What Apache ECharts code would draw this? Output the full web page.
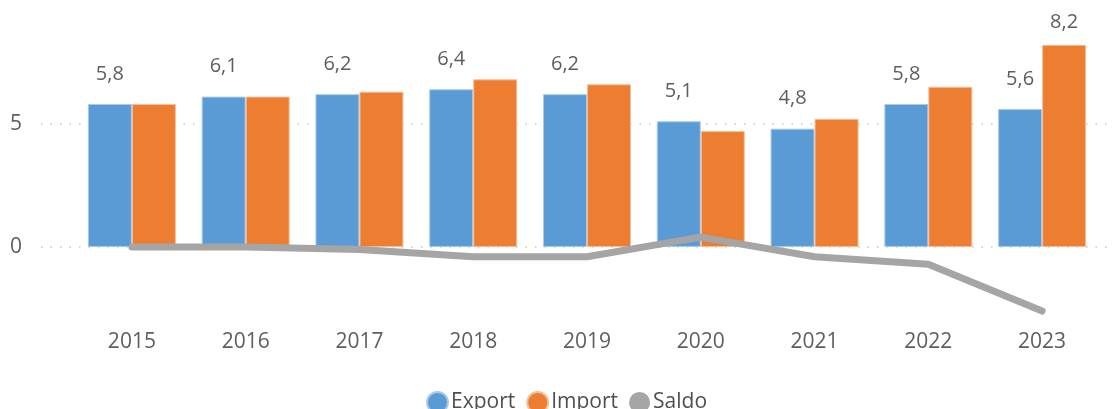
<!DOCTYPE html>
<html>
<head>
<meta charset="utf-8">
<script src="https://cdn.jsdelivr.net/npm/echarts@6/dist/echarts.min.js"></script>
<style>
  html, body { margin: 0; padding: 0; background: #fff; }
  #chart { width: 1120px; height: 409px; }
</style>
</head>
<body>
<div id="chart"></div>
<script>
var years = ['2015', '2016', '2017', '2018', '2019', '2020', '2021', '2022', '2023']
var exportVals = [5.8, 6.1, 6.2, 6.4, 6.2, 5.1, 4.8, 5.8, 5.6]
var importVals = [5.8, 6.1, 6.3, 6.8, 6.6, 4.7, 5.2, 6.5, 8.2]
var saldoVals = [0.0, 0.0, -0.1, -0.4, -0.4, 0.4, -0.4, -0.7, -2.6]

var font = 'Open Sans'
var textGrey = '#605E5C'
var yMin = -2.7
var yMax = 8.6

function fmt(v) {
  return String(v.toFixed(1)).replace('.', ',')
}

// only the last import label is visible in the picture
var importData = importVals.map(function (v, i) {
  if (i === importVals.length - 1) {
    return { value: v, label: { show: true } }
  }
  return v
})

var myChart = echarts.init(document.getElementById('chart'))
var option = {
  animation: false,
  textStyle: { fontFamily: font },
  grid: [
    // wide grid: only gridlines and y labels
    { left: 41, right: 10, top: 35, bottom: 95.5 },
    // bars and line
    { left: 75, right: 21, top: 35, bottom: 95.5 }
  ],
  legend: {
    data: ['Export', 'Import', 'Saldo'],
    left: 421,
    top: 386,
    icon: 'circle',
    itemWidth: 21,
    itemHeight: 21,
    itemGap: 11,
    textStyle: { fontFamily: font, fontSize: 21, color: '#4f4f4f', padding: [0, 0, 0, -2] }
  },
  xAxis: [
    { gridIndex: 0, type: 'value', show: false, min: 0, max: 1 },
    {
      gridIndex: 1,
      type: 'category',
      data: years,
      axisLine: { show: false },
      axisTick: { show: false },
      axisLabel: { fontFamily: font, fontSize: 21, color: textGrey, margin: 18 }
    }
  ],
  yAxis: [
    {
      gridIndex: 0,
      type: 'value',
      min: yMin,
      max: yMax,
      splitNumber: 2,
      axisLine: { show: false },
      axisTick: { show: false },
      axisLabel: {
        fontFamily: font, fontSize: 21, color: textGrey, margin: 19,
        showMinLabel: false, showMaxLabel: false,
        formatter: function (v) { return fmt(v).replace(',0', '') }
      },
      splitLine: {
        showMinLine: false,
        showMaxLine: false,
        lineStyle: { color: '#C8C6C4', width: 1.5, type: [1.5, 8] }
      }
    },
    {
      gridIndex: 1,
      type: 'value',
      min: yMin,
      max: yMax,
      show: false,
      splitLine: { show: false }
    }
  ],
  series: [
    {
      name: 'Export',
      type: 'bar',
      xAxisIndex: 1,
      yAxisIndex: 1,
      data: exportVals,
      barWidth: 44,
      barGap: '0%',
      itemStyle: { color: '#5B9BD5', borderColor: '#A9CBEB', borderWidth: 1 },
      label: {
        show: true,
        position: 'top',
        distance: 20,
        fontFamily: font,
        fontSize: 20,
        color: textGrey,
        formatter: function (p) { return fmt(p.value) }
      }
    },
    {
      name: 'Import',
      type: 'bar',
      xAxisIndex: 1,
      yAxisIndex: 1,
      data: importData,
      barWidth: 44,
      barGap: '0%',
      itemStyle: { color: '#ED7D31', borderColor: '#F6BE98', borderWidth: 1 },
      label: {
        show: false,
        position: 'top',
        distance: 13,
        fontFamily: font,
        fontSize: 20,
        color: textGrey,
        formatter: function (p) { return fmt(p.value) }
      }
    },
    {
      name: 'Saldo',
      type: 'line',
      xAxisIndex: 1,
      yAxisIndex: 1,
      data: saldoVals,
      showSymbol: false,
      symbol: 'circle',
      itemStyle: { color: '#A5A5A5' },
      lineStyle: { color: '#A5A5A5', width: 7, cap: 'round', join: 'round' },
      z: 5
    }
  ]
}
myChart.setOption(option)
</script>
</body>
</html>
